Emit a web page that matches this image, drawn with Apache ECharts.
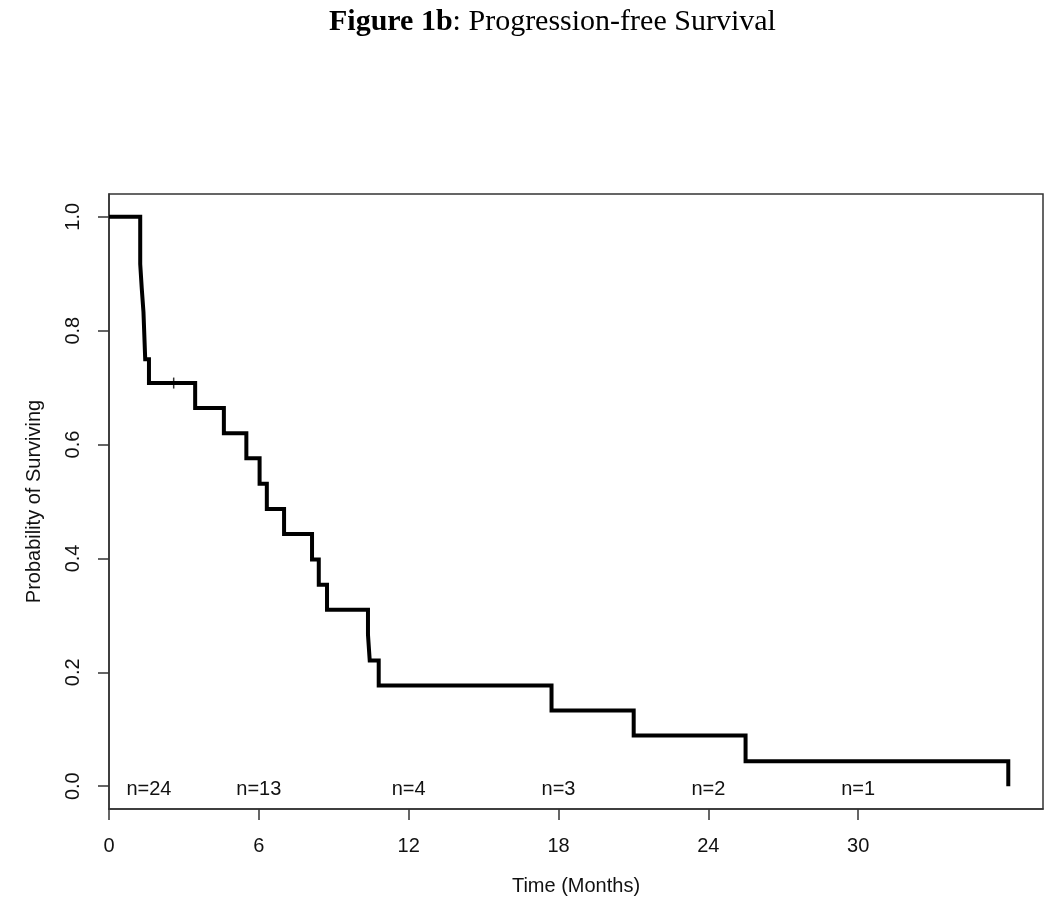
<!DOCTYPE html>
<html>
<head>
<meta charset="utf-8">
<script src="https://cdn.jsdelivr.net/npm/echarts@6/dist/echarts.min.js"></script>
<style>
html,body{margin:0;padding:0;background:#fff;}
#chart{width:1050px;height:907px;}
</style>
</head>
<body>
<div id="chart"></div>
<script>
// Kaplan-Meier step points (time in months, survival after the drop)
const kmTimes = [0, 1.25, 1.31, 1.38, 1.45, 1.60, 3.45, 4.60, 5.50, 6.03, 6.32, 7.01, 8.13, 8.40, 8.73, 10.37, 10.44, 10.80, 17.72, 21.01, 25.49, 36.01];
const kmSurv  = [1.0, 0.917, 0.875, 0.833, 0.750, 0.708, 0.664, 0.620, 0.576, 0.531, 0.487, 0.443, 0.398, 0.354, 0.310, 0.266, 0.221, 0.177, 0.133, 0.089, 0.044, 0.0];
// censored observation
const censorTimes = [2.59];
const censorSurv  = [0.708];
// numbers at risk
const atRiskX      = [1.6, 6, 12, 18, 24, 30];
const atRiskLabels = ['n=24', 'n=13', 'n=4', 'n=3', 'n=2', 'n=1'];
// axis ticks
const xTicks = [0, 6, 12, 18, 24, 30];
const yTicks = [0, 0.2, 0.4, 0.6, 0.8, 1.0];

const sans = '"Liberation Sans", Arial, sans-serif';
const serif = '"Liberation Serif", "Times New Roman", serif';

const chart = echarts.init(document.getElementById('chart'), null, {renderer: 'canvas'});
const option = {
  animation: false,
  backgroundColor: '#fff',
  title: {
    text: '{b|Figure 1b}{r|: Progression-free Survival}',
    left: 324,
    top: 1,
    textStyle: {
      rich: {
        b: {fontFamily: serif, fontWeight: 'bold', fontSize: 30, color: '#000', lineHeight: 32},
        r: {fontFamily: serif, fontWeight: 'normal', fontSize: 30, color: '#000', lineHeight: 32}
      }
    }
  },
  grid: {
    left: 109, right: 7, top: 194, bottom: 98,
    show: true, borderColor: '#333', borderWidth: 1.5, backgroundColor: 'transparent'
  },
  xAxis: {
    type: 'value',
    min: 0, max: 37.4,
    position: 'bottom',
    name: 'Time (Months)',
    nameLocation: 'middle',
    nameGap: 67,
    nameTextStyle: {fontFamily: sans, fontSize: 20, color: '#111'},
    axisLine: {show: true, onZero: false, lineStyle: {color: '#333', width: 1.5}},
    axisTick: {show: true, customValues: xTicks, length: 11, lineStyle: {color: '#333', width: 1.5}},
    axisLabel: {customValues: xTicks, fontFamily: sans, fontSize: 20, color: '#111', margin: 27},
    splitLine: {show: false}
  },
  yAxis: {
    type: 'value',
    min: -0.04, max: 1.04,
    position: 'left',
    name: 'Probability of Surviving',
    nameLocation: 'middle',
    nameGap: 65,
    nameTextStyle: {fontFamily: sans, fontSize: 20, color: '#111'},
    axisLine: {show: true, onZero: false, lineStyle: {color: '#333', width: 1.5}},
    axisTick: {show: true, customValues: yTicks, length: 11, lineStyle: {color: '#333', width: 1.5}},
    axisLabel: {
      customValues: yTicks, rotate: 90, fontFamily: sans, fontSize: 20, color: '#111', margin: 26,
      formatter: v => v.toFixed(1)
    },
    splitLine: {show: false}
  },
  series: [
    {
      type: 'line',
      step: 'end',
      symbol: 'none',
      data: kmTimes.map((t, i) => [t, kmSurv[i]]),
      lineStyle: {color: '#000', width: 4, join: 'miter'},
      z: 3
    },
    {
      type: 'scatter',
      symbol: 'rect',
      symbolSize: [1.5, 11],
      data: censorTimes.map((t, i) => [t, censorSurv[i]]),
      itemStyle: {color: '#000'},
      z: 4
    },
    {
      type: 'custom',
      data: atRiskX.map((x, i) => [x, 0, i]),
      renderItem: (params, api) => {
        const p = api.coord([api.value(0), api.value(1)]);
        return {
          type: 'text',
          x: p[0], y: p[1] + 3,
          style: {
            text: atRiskLabels[api.value(2)],
            fontFamily: sans, fontSize: 20, fill: '#111',
            align: 'center', verticalAlign: 'middle'
          }
        };
      },
      z: 5
    }
  ]
};
chart.setOption(option);
</script>
</body>
</html>
